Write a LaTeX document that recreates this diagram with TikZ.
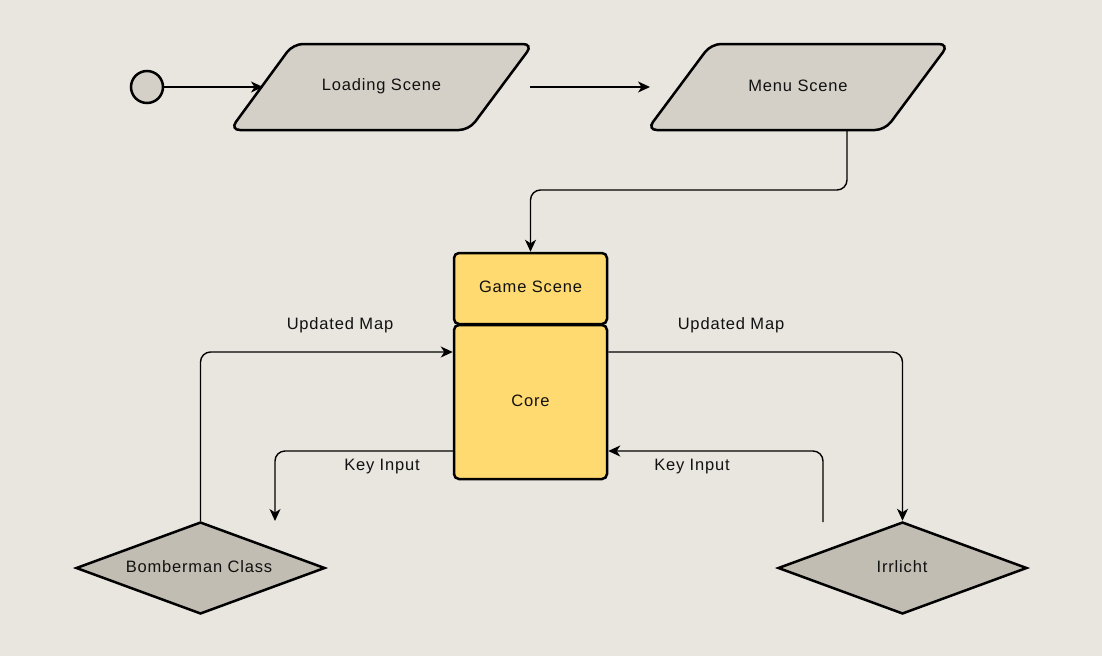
\documentclass[tikz,border=0pt]{standalone}
\usepackage{fontspec}
\setmainfont{Liberation Sans}[LetterSpace=5.0]
\usetikzlibrary{shapes.geometric,arrows.meta,calc}
\definecolor{bg}{RGB}{233,230,223}
\definecolor{paraFill}{RGB}{212,208,200}
\definecolor{diaFill}{RGB}{193,189,178}
\definecolor{coreFill}{RGB}{255,218,112}
\definecolor{txt}{RGB}{17,17,17}
\begin{document}
\begin{tikzpicture}[x=1pt,y=-1pt,
  every node/.style={font=\fontsize{16.5}{20}\selectfont, text=txt},
  shapeline/.style={draw=black, line width=2.5pt},
  parashape/.style={shapeline, fill=paraFill, rounded corners=10pt},
  corebox/.style={shapeline, fill=coreFill, rectangle, rounded corners=5pt, minimum width=153pt, inner sep=0pt},
  diabox/.style={shapeline, fill=diaFill, diamond, aspect=2.7, minimum width=249pt, minimum height=92pt, inner sep=0pt},
  conn/.style={draw=black, line width=1.4pt, rounded corners=10pt},
  tip/.style={-{Stealth[length=12pt,width=11pt,inset=3.5pt]}},
  lbl/.style={inner sep=0pt}
]
\useasboundingbox (0,0) rectangle (1102,656);
\fill[bg] (0,0) rectangle (1102,656);

% parallelograms
\draw[parashape] (411,44) -- (533,44) -- (469,130) -- (230,130) -- (293,44) -- cycle;
\draw[parashape] (829,44) -- (949,44) -- (885,130) -- (647,130) -- (711,44) -- cycle;

\node[shapeline, fill=paraFill, circle, minimum size=32pt, inner sep=0pt] (start) at (147,87) {};
\node[lbl] (load) at (381.5,86) {Loading Scene};
\node[lbl] (menu) at (798,86) {Menu Scene};
\coordinate (loadW) at (263,87);
\coordinate (loadE) at (530,87);
\coordinate (menuW) at (650,87);
\coordinate (menuS) at (847,130);

\node[corebox, minimum height=71pt] (game) at (530.5,288.5) {};
\node[lbl] (gameT) at (530.5,286.5) {Game Scene};
\node[corebox, minimum height=154pt] (core) at (530.5,402) {};
\node[lbl] (coreT) at (530.5,400.5) {Core};

\node[diabox] (bomb) at (200.5,568) {};
\node[lbl] (bombT) at (199,566.5) {Bomberman Class};
\node[diabox] (irr) at (902.5,568) {};
\node[lbl] (irrT) at (902,566.5) {Irrlicht};

\coordinate (kl) at (275,521);
\coordinate (kr) at (823,522);

\draw[conn, tip] (start) -- (loadW);
\draw[conn, tip] (loadE) -- (menuW);
\draw[conn, tip] (menuS) -- ++(0,60) -| (game.north);

\draw[conn, tip] (bomb.north) |- ($(core.west)+(0,-50)$);
\draw[conn, tip] ($(core.east)+(0,-50)$) -| (irr.north);
\draw[conn, tip] ($(core.west)+(0,49)$) -| (kl);
\draw[conn, tip] (kr) |- ($(core.east)+(0,49)$);

\node[lbl] (l1) at (340,325) {Updated Map};
\node[lbl] (l2) at (731,325) {Updated Map};
\node[lbl] (l3) at (382,467) {Key Input};
\node[lbl] (l4) at (692,467) {Key Input};
\end{tikzpicture}
\end{document}
